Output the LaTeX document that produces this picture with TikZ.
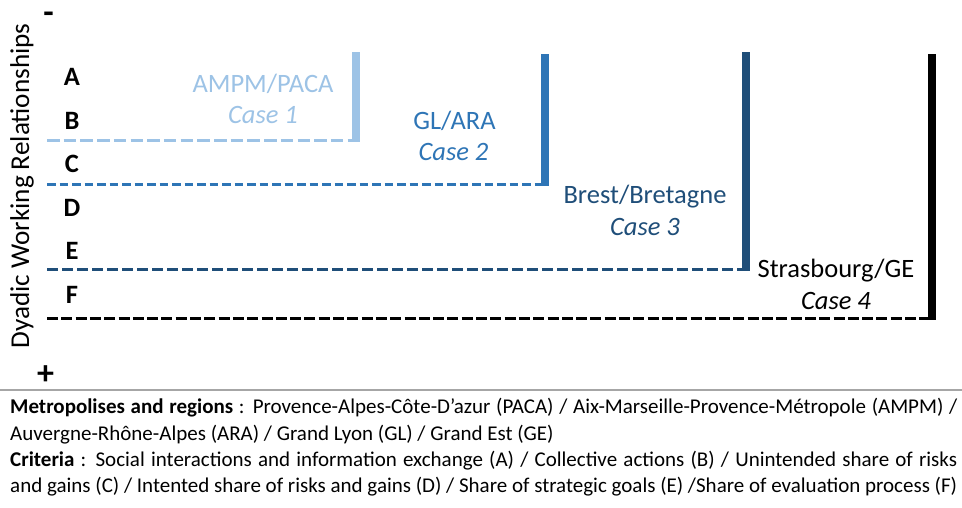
\documentclass[tikz,border=0pt]{standalone}
\usepackage{fontspec}
\setmainfont{Carlito}
\definecolor{cone}{HTML}{9DC3E6}
\definecolor{ctwo}{HTML}{2E75B6}
\definecolor{cthree}{HTML}{1F4E79}
\definecolor{sepgray}{HTML}{A6A6A6}
\tikzset{
  big/.style={font=\fontsize{26.5}{31}\selectfont, inner sep=0pt},
  bigb/.style={font=\fontsize{26.5}{31}\selectfont\bfseries, inner sep=0pt},
  sign/.style={font=\fontsize{34}{40}\selectfont\bfseries, inner sep=0pt, anchor=base},
  casename/.style={big, anchor=base},
  casenum/.style={big, anchor=base, font=\fontsize{26.5}{31}\selectfont\itshape},
  crit/.style={bigb, anchor=base},
  level/.style={line width=3pt},
  bar/.style={line width=8pt},
  legend/.style={font=\fontsize{21}{26.5}\selectfont, inner sep=0pt, anchor=base west},
}
\begin{document}
\begin{tikzpicture}[x=1pt,y=-1pt]
\useasboundingbox[fill=white] (0,0) rectangle (962,507);
% axis label and signs
\node[big, rotate=90, font=\fontsize{27.2}{31}\selectfont] (ylab) at (22,186) {Dyadic Working Relationships};
\node[sign] (minus) at (48.5,23) {-};
\node[sign] (plus) at (45.5,384) {+};
% criteria letters
\node[crit] (A) at (72,85) {A};
\node[crit] (B) at (72,129) {B};
\node[crit] (C) at (72,172) {C};
\node[crit] (D) at (72,216) {D};
\node[crit] (E) at (72,259) {E};
\node[crit] (F) at (72,303) {F};
% levels
\coordinate (l1) at (47,140.5);  \coordinate (r1) at (356,140.5);  \coordinate (t1) at (356,52);
\coordinate (l2) at (47,184);    \coordinate (r2) at (544.5,184);  \coordinate (t2) at (544.5,54);
\coordinate (l3) at (47,269);    \coordinate (r3) at (746,269);    \coordinate (t3) at (746,52);
\coordinate (l4) at (47,318);    \coordinate (r4) at (932,318);    \coordinate (t4) at (932,54);
\draw[level, cone, dash pattern=on 12.5pt off 4.2pt] (l1) -- (r1);
\draw[bar, cone] (t1) -- ([yshift=-1.5pt]r1);
\draw[level, ctwo, dash pattern=on 8.5pt off 4pt] (l2) -- (r2);
\draw[bar, ctwo] (t2) -- ([yshift=-1.5pt]r2);
\draw[level, cthree, dash pattern=on 11pt off 4pt] (l3) -- (r3);
\draw[bar, cthree] (t3) -- ([yshift=-1.5pt]r3);
\draw[level, black, dash pattern=on 11pt off 3.3pt] (l4) -- (r4);
\draw[bar, black] (t4) -- ([yshift=-1.5pt]r4);
% case labels
\node[casename, text=cone] (n1) at (263,92) {AMPM/PACA};
\node[casenum, text=cone] (c1) at (263,123) {Case 1};
\node[casename, text=ctwo] (n2) at (454.5,129) {GL/ARA};
\node[casenum, text=ctwo] (c2) at (453.5,160) {Case 2};
\node[casename, text=cthree] (n3) at (645,203) {Brest/Bretagne};
\node[casenum, text=cthree] (c3) at (645,235) {Case 3};
\node[casename, text=black] (n4) at (836,277) {Strasbourg/GE};
\node[casenum, text=black] (c4) at (836,309) {Case 4};
% separator
\coordinate (s1) at (0,390); \coordinate (s2) at (962,390);
\draw[sepgray, line width=2pt] (s1) -- (s2);
% legend
\node[legend] (g1) at (10,413) {\hbox to 947pt{\textbf{Metropolises and regions} : Provence-Alpes-Côte-D’azur (PACA) / Aix-Marseille-Provence-Métropole (AMPM) /}};
\node[legend] (g2) at (10,440) {Auvergne-Rhône-Alpes (ARA) / Grand Lyon (GL) / Grand Est (GE)};
\node[legend] (g3) at (10,466) {\hbox to 947pt{\textbf{Criteria} : Social interactions and information exchange (A) / Collective actions (B) / Unintended share of risks}};
\node[legend] (g4) at (10,492) {and gains (C) / Intented share of risks and gains (D) / Share of strategic goals (E) /Share of evaluation process (F)};
\end{tikzpicture}
\end{document}
